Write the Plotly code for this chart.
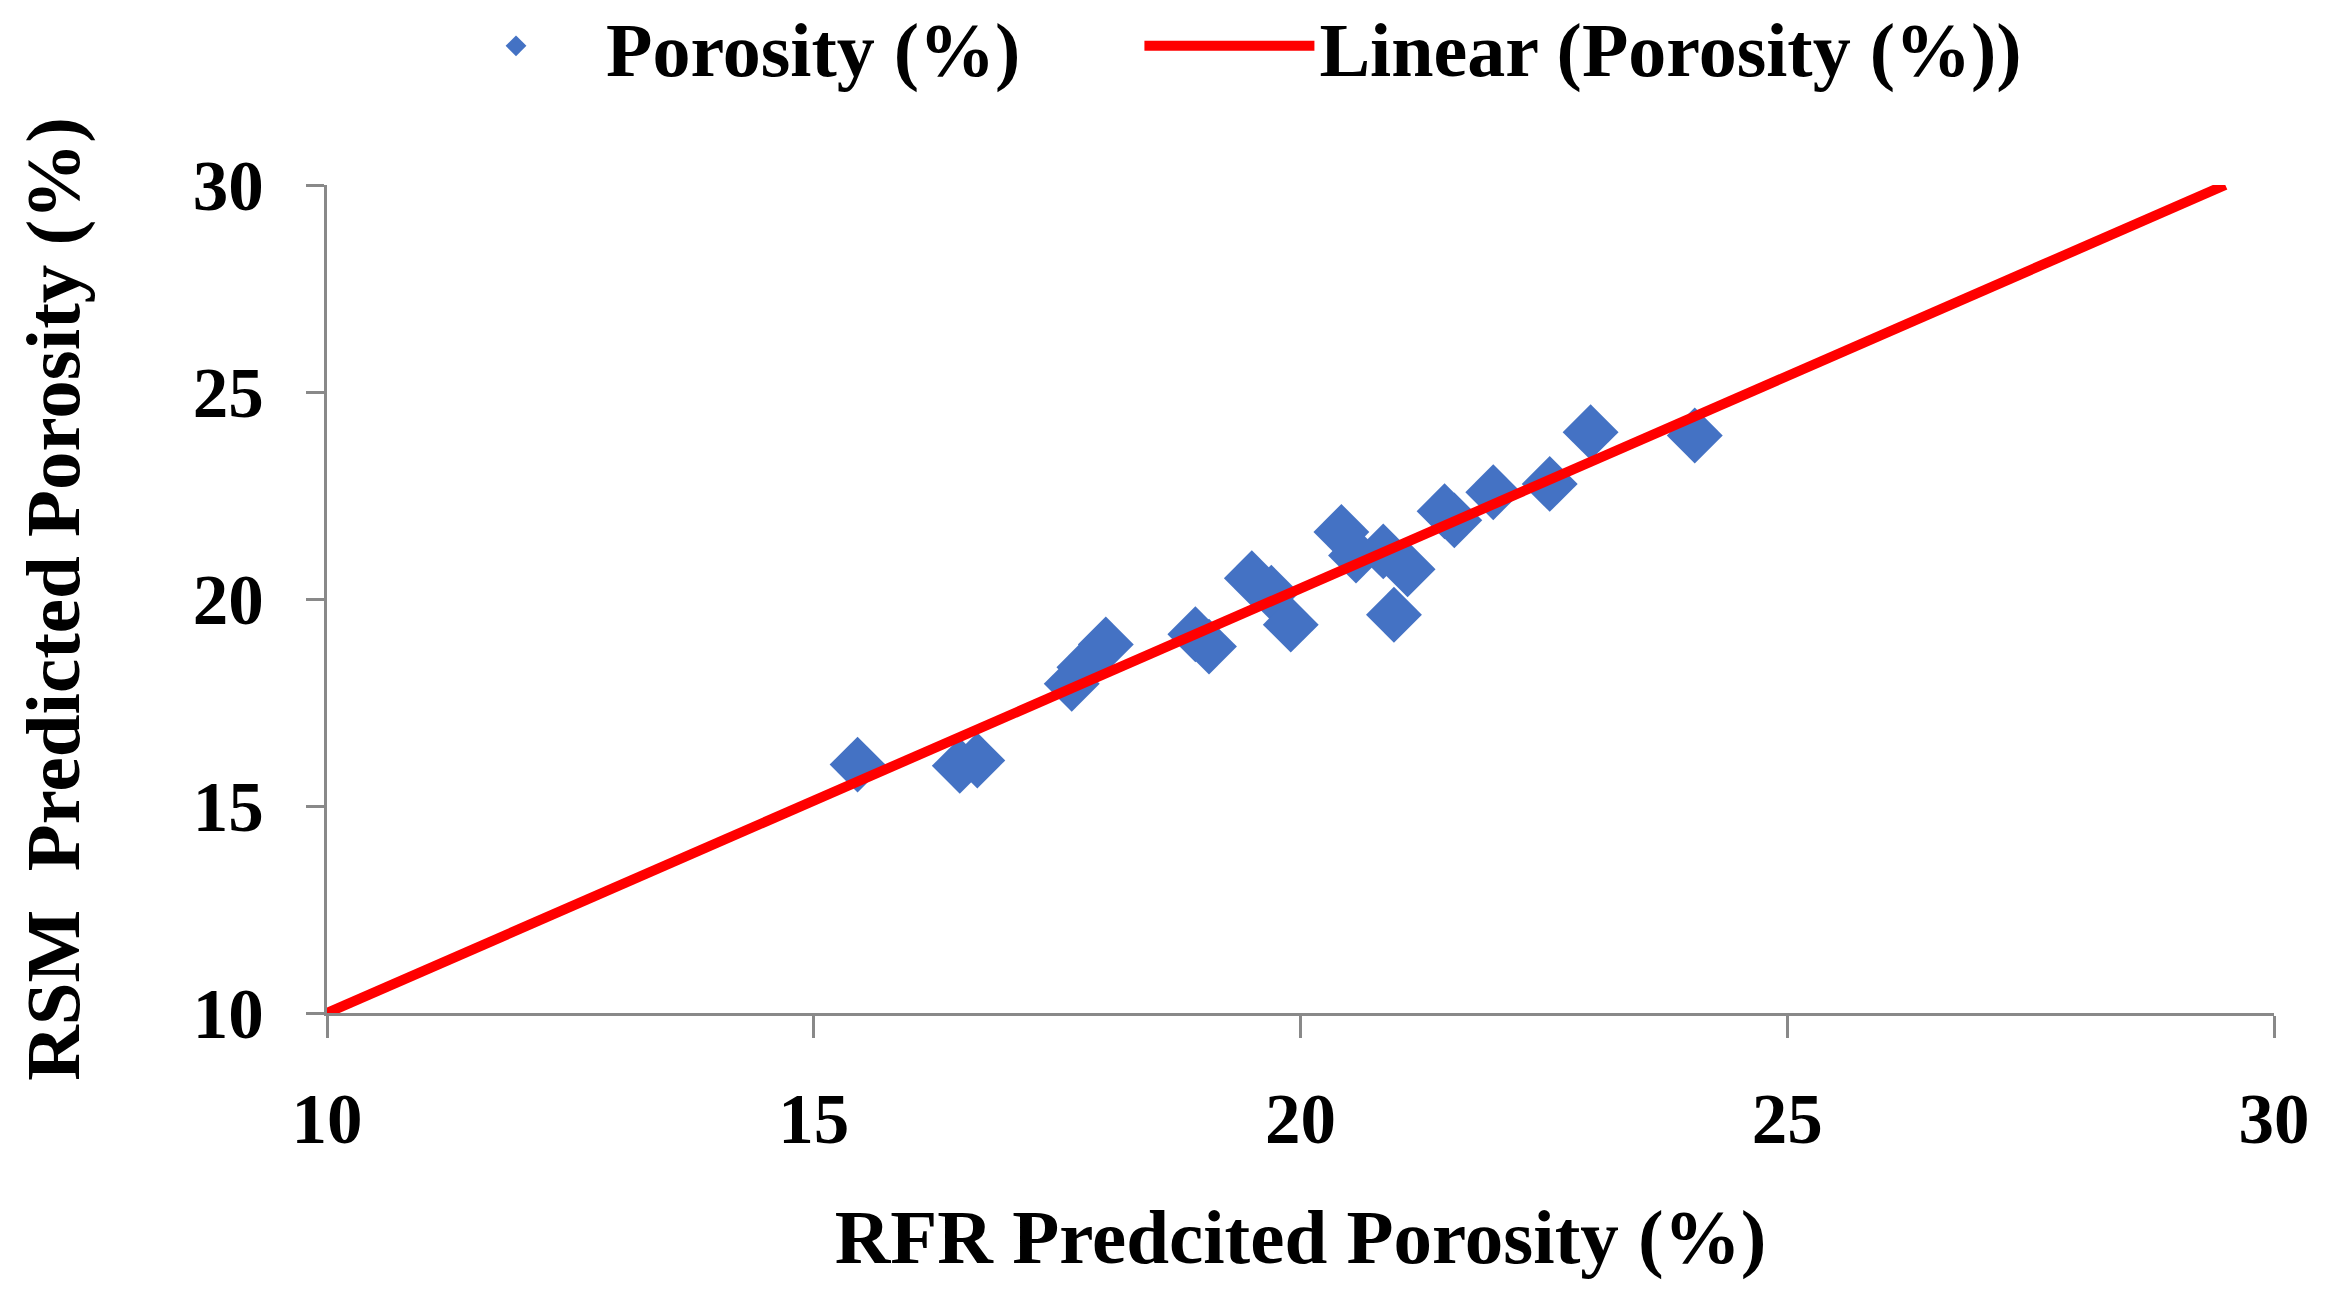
import plotly.graph_objects as go

rfr = [15.45, 16.5, 16.68, 17.65, 17.78, 18.0, 18.92, 19.06, 19.5, 19.7, 19.9,
       20.42, 20.57, 20.85, 21.1, 20.96, 21.48, 21.58, 21.98, 22.56, 22.98, 24.05]
rsm = [16.0, 15.97, 16.1, 17.95, 18.35, 18.9, 19.15, 18.85, 20.5, 20.15, 19.38,
       21.62, 21.05, 21.15, 20.72, 19.62, 22.12, 21.9, 22.58, 22.78, 24.03, 23.95]
trend_x = [10, 29.5]
trend_y = [10, 30]
ticks = [10, 15, 20, 25, 30]

FONT = "Liberation Serif"
GAP = "\u00a0" * 6

fig = go.Figure()
fig.add_trace(go.Scatter(
    x=rfr, y=rsm, mode="markers", name="Porosity (%)" + GAP,
    marker=dict(symbol="diamond", size=43, color="#4472C4", line=dict(width=0)),
))
fig.add_trace(go.Scatter(
    x=trend_x, y=trend_y, mode="lines", name="Linear (Porosity (%))",
    line=dict(color="#FF0000", width=10),
))

axis_common = dict(
    range=[10, 30], tickvals=ticks, showgrid=False, zeroline=False,
    showline=True, linecolor="#898989", linewidth=3,
    ticks="outside", tickcolor="#898989", tickwidth=3,
    tickfont=dict(family=FONT, size=71, color="black", weight="bold"),
)

fig.update_layout(
    width=2334, height=1309,
    paper_bgcolor="white", plot_bgcolor="white",
    margin=dict(l=319, r=68, t=177, b=304),
    font=dict(family=FONT, color="black"),
    showlegend=True,
    legend=dict(
        orientation="h", x=0.462, xanchor="center", y=0.971, yanchor="middle",
        yref="container", font=dict(family=FONT, size=76, color="black", weight="bold"),
        itemwidth=170, tracegroupgap=0,
    ),
    xaxis=dict(**axis_common, ticklen=22, ticklabelstandoff=20,
               title=dict(text="RFR Predcited Porosity (%)", standoff=52,
                          font=dict(family=FONT, size=77, color="black", weight="bold"))),
    yaxis=dict(**axis_common, ticklen=18, ticklabelstandoff=28,
               title=dict(text="RSM  Predicted Porosity (%)", standoff=88,
                          font=dict(family=FONT, size=77, color="black", weight="bold"))),
)

fig.write_html("out.html")
